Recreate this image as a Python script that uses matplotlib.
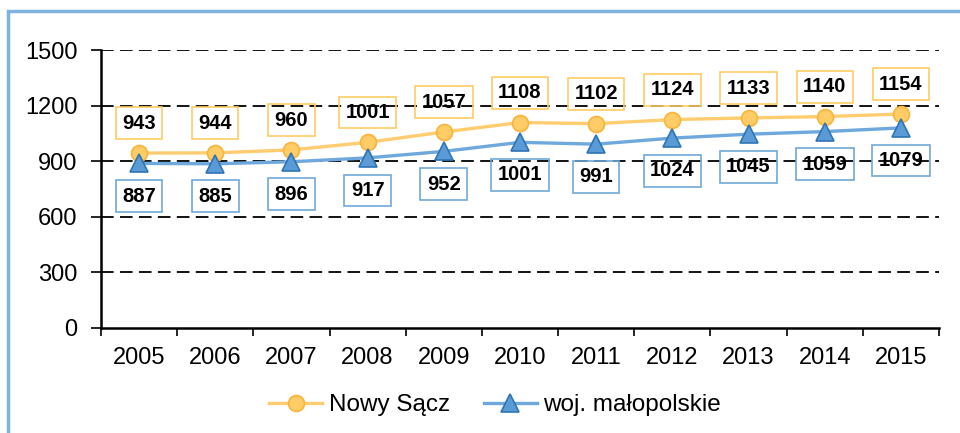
import numpy as np
import matplotlib.pyplot as plt
from matplotlib.patches import Rectangle

plt.rcParams['font.family'] = ['Liberation Sans', 'DejaVu Sans']

# Data
years = ['2005', '2006', '2007', '2008', '2009', '2010', '2011', '2012', '2013', '2014', '2015']
nowy_sacz = [943, 944, 960, 1001, 1057, 1108, 1102, 1124, 1133, 1140, 1154]
malopolskie = [887, 885, 896, 917, 952, 1001, 991, 1024, 1045, 1059, 1079]

orange_line = '#FFCC70'
orange_face = '#FFCC66'
orange_edge = '#F9B43C'
blue_line = '#6FA8DC'
blue_face = '#5B9BD5'
blue_edge = '#2E75B6'

fig = plt.figure(figsize=(9.6, 4.33), dpi=100)
ax = fig.add_axes([0.1052, 0.2436, 0.8729, 0.6409])

x = np.arange(len(years))

ax.plot(x, nowy_sacz, color=orange_line, lw=2.4, marker='o', ms=11.5,
        mfc=orange_face, mec=orange_edge, mew=1.2, label='Nowy Sącz', zorder=3)
ax.plot(x, malopolskie, color=blue_line, lw=2.4, marker='^', ms=12.5,
        mfc=blue_face, mec=blue_edge, mew=1.2, label='woj. małopolskie', zorder=4)

# value labels in boxes
for xi, v in zip(x, nowy_sacz):
    ax.annotate(str(v), (xi, v), xytext=(0, 21.5), textcoords='offset points',
                ha='center', va='center', fontsize=14.5, fontweight='bold',
                bbox=dict(boxstyle='square,pad=0.32', fc='none', ec=orange_face, lw=1.2),
                zorder=5)
for xi, v in zip(x, malopolskie):
    ax.annotate(str(v), (xi, v), xytext=(0, -23.5), textcoords='offset points',
                ha='center', va='center', fontsize=14.5, fontweight='bold',
                bbox=dict(boxstyle='square,pad=0.32', fc='none', ec=blue_line, lw=1.2),
                zorder=5)

ax.set_ylim(0, 1500)
ax.set_yticks([0, 300, 600, 900, 1200, 1500])
ax.set_xlim(-0.5, len(years) - 0.5)
ax.set_xticks(np.arange(-0.5, len(years), 1.0))
ax.set_xticklabels([])
ax.set_xticks(x, minor=True)
ax.set_xticklabels(years, minor=True)
ax.tick_params(axis='x', which='minor', length=0, pad=14, labelsize=17)
ax.tick_params(axis='x', which='major', length=6, width=1.2, direction='out')
ax.tick_params(axis='y', length=7, width=1.2, labelsize=17, pad=10)

for yv in [300, 600, 900, 1200, 1500]:
    ax.axhline(yv, color='black', lw=1.3, ls=(0, (7, 3.5)), zorder=1)

for s in ['top', 'right']:
    ax.spines[s].set_visible(False)
for s in ['left', 'bottom']:
    ax.spines[s].set_linewidth(1.8)

ax.legend(loc='center', bbox_to_anchor=(495 / 960, 1 - 405 / 433), bbox_transform=fig.transFigure,
          ncol=2, frameon=False, fontsize=17.5, handlelength=2.2, columnspacing=1.4,
          handletextpad=0.25)

# outer frame
fig.patches.append(Rectangle((8 / 960, -0.1), 1.2, 1 - 11 / 433 + 0.1, transform=fig.transFigure,
                             fill=False, ec='#7DB3E0', lw=2.5))

fig.savefig('out.png', dpi=100)
